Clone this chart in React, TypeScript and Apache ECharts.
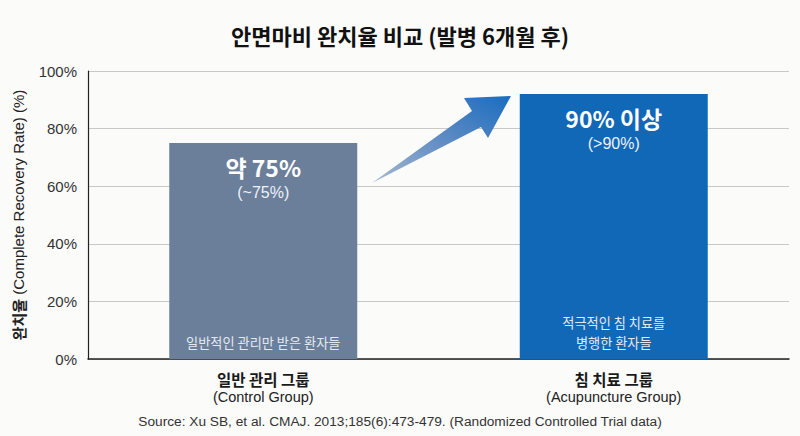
import React, { useEffect, useRef } from "react";
import * as echarts from "echarts";

const titleText = "안면마비 완치율 비교 (발병 6개월 후)";
const sourceText =
  "Source: Xu SB, et al. CMAJ. 2013;185(6):473-479. (Randomized Controlled Trial data)";
const yAxisNameKo = "완치율";
const yAxisNameEn = " (Complete Recovery Rate) (%)";
const categoriesKo = ["일반 관리 그룹", "침 치료 그룹"];
const categoriesEn = ["(Control Group)", "(Acupuncture Group)"];
const recoveryRates = [75, 92];
const headlineLabels = ["약 75%", "90% 이상"];
const subLabels = ["(~75%)", "(>90%)"];
const footLabels = ["일반적인 관리만 받은 환자들", "적극적인 침 치료를\n병행한 환자들"];
const barColors = ["#6b7f9b", "#1168b7"];

const FONT = "'Liberation Sans', 'Noto Sans CJK KR', sans-serif";
const KFONT = "'Noto Sans CJK KR', 'Liberation Sans', sans-serif";

export default function App() {
  const ref = useRef<HTMLDivElement>(null);

  useEffect(() => {
    document.body.style.margin = "0";
    if (!ref.current) return;
    const chart = echarts.init(ref.current, undefined, { renderer: "svg" });

    const option: any = {
      animation: false,
      backgroundColor: "#fbfbfa",
      textStyle: { fontFamily: FONT },
      title: [
        {
          text: titleText,
          left: "center",
          top: 19,
          textStyle: { fontFamily: KFONT, fontSize: 22, fontWeight: "bold", color: "#111" },
        },
        {
          text: sourceText,
          left: "center",
          top: 410,
          textStyle: { fontFamily: FONT, fontSize: 13.7, fontWeight: "normal", color: "#333" },
        },
      ],
      grid: { left: 88, right: 11, top: 71, bottom: 77 },
      xAxis: {
        type: "category",
        data: categoriesKo,
        axisLine: { lineStyle: { color: "#222", width: 1.5 } },
        axisTick: { show: false },
        axisLabel: {
          margin: 10,
          formatter: (v: string, i: number) => `{k|${v}}\n{e|${categoriesEn[i]}}`,
          rich: {
            k: { fontFamily: KFONT, fontSize: 15.5, fontWeight: "bold", color: "#1a1a1a", lineHeight: 19 },
            e: { fontFamily: FONT, fontSize: 14.5, color: "#222", lineHeight: 18 },
          },
        },
      },
      yAxis: {
        type: "value",
        min: 0,
        max: 100,
        interval: 20,
        name: `{k|${yAxisNameKo}}{e|${yAxisNameEn}}`,
        nameLocation: "middle",
        nameGap: 62,
        nameRotate: 90,
        nameTextStyle: {
          rich: {
            k: { fontFamily: KFONT, fontSize: 15, fontWeight: "bold", color: "#222" },
            e: { fontFamily: FONT, fontSize: 15, color: "#222" },
          },
        },
        axisLine: { show: true, lineStyle: { color: "#222", width: 1.2 } },
        axisTick: { show: false },
        axisLabel: { formatter: "{value}%", fontSize: 15, color: "#333", margin: 11 },
        splitLine: { lineStyle: { color: "#c8c8c8", width: 1 } },
      },
      series: [
        {
          type: "bar",
          barWidth: 188,
          data: recoveryRates.map((v, i) => ({ value: v, itemStyle: { color: barColors[i] } })),
          label: {
            show: true,
            position: "insideTop",
            distance: 10,
            formatter: (p: any) => `{a|${headlineLabels[p.dataIndex]}}\n{b|${subLabels[p.dataIndex]}}`,
            rich: {
              a: { fontFamily: KFONT, fontSize: 23, fontWeight: "bold", color: "#fff", lineHeight: 28 },
              b: { fontFamily: FONT, fontSize: 16, color: "#eef2f8", lineHeight: 22 },
            },
          },
          z: 2,
        },
        {
          type: "bar",
          barWidth: 188,
          barGap: "-100%",
          silent: true,
          data: recoveryRates,
          itemStyle: { color: "rgba(0,0,0,0)" },
          label: {
            show: true,
            position: "insideBottom",
            distance: 7,
            formatter: (p: any) => footLabels[p.dataIndex],
            fontFamily: KFONT,
            fontSize: 13.2,
            lineHeight: 19.5,
            color: "#e4e9f1",
          },
          z: 3,
        },
      ],
      graphic: [
        {
          type: "polygon",
          z: 10,
          shape: {
            points: [
              [372, 183],
              [472, 111],
              [464, 98],
              [511, 96],
              [488, 138],
              [481, 127],
            ],
          },
          style: {
            fill: new echarts.graphic.LinearGradient(0, 1, 1, 0, [
              { offset: 0, color: "#a8b9d1" },
              { offset: 0.5, color: "#5f8cc3" },
              { offset: 1, color: "#1a6cc0" },
            ]),
          },
        },
      ],
    };

    chart.setOption(option);
    return () => chart.dispose();
  }, []);

  return <div ref={ref} style={{ width: 800, height: 436 }} />;
}
